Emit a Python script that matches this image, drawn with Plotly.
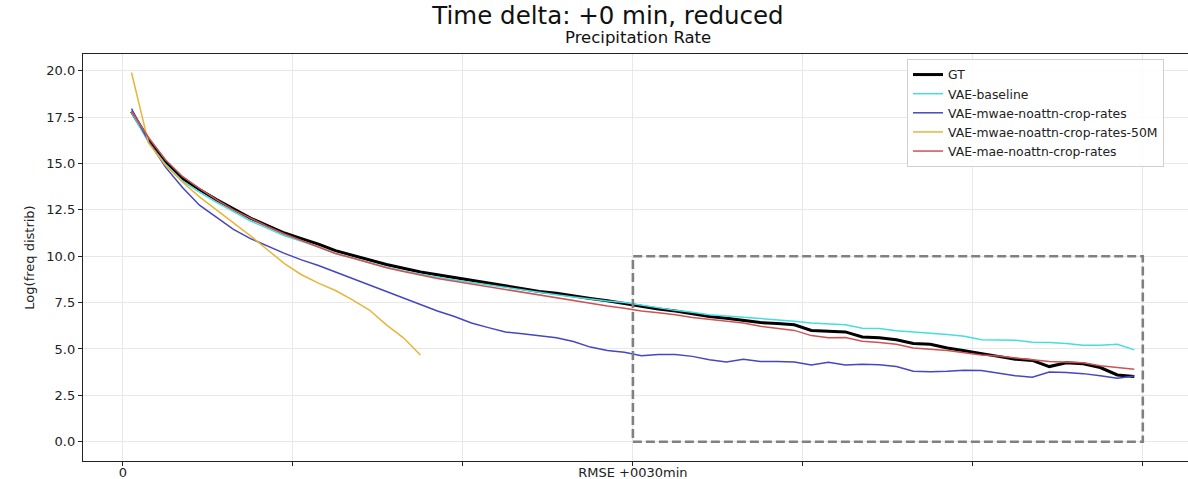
import plotly.graph_objects as go

# Bin centres of the precipitation-rate histogram (60 bins, 10 per major tick)
bins = [i + 0.5 for i in range(60)]
bins_50m = bins[:18]

gt = [17.8, 16.3, 15.1, 14.2, 13.6, 13.05, 12.55, 12.05, 11.65, 11.25,
      10.95, 10.65, 10.3, 10.05, 9.8, 9.55, 9.35, 9.15, 9.0, 8.85,
      8.7, 8.55, 8.4, 8.25, 8.1, 8.0, 7.85, 7.72, 7.6, 7.45,
      7.3, 7.15, 7.05, 6.9, 6.75, 6.65, 6.55, 6.42, 6.37, 6.3,
      6.0, 5.97, 5.92, 5.65, 5.6, 5.5, 5.3, 5.25, 5.05, 4.9,
      4.77, 4.6, 4.45, 4.38, 4.05, 4.25, 4.2, 4.0, 3.6, 3.52]

vae_baseline = [17.75, 16.15, 14.95, 14.05, 13.45, 12.9, 12.4, 11.9, 11.5, 11.1,
                10.8, 10.5, 10.15, 9.9, 9.65, 9.4, 9.2, 9.02, 8.87, 8.72,
                8.58, 8.44, 8.3, 8.16, 8.03, 7.92, 7.8, 7.68, 7.58, 7.5,
                7.35, 7.2, 7.08, 6.98, 6.85, 6.78, 6.72, 6.66, 6.6, 6.5,
                6.4, 6.33, 6.3, 6.12, 6.1, 5.98, 5.92, 5.88, 5.78, 5.68,
                5.5, 5.48, 5.47, 5.36, 5.35, 5.3, 5.2, 5.2, 5.25, 4.95]

vae_mwae = [17.95, 16.2, 14.8, 13.7, 12.75, 12.1, 11.45, 10.95, 10.55, 10.15,
            9.8, 9.5, 9.15, 8.8, 8.45, 8.1, 7.75, 7.4, 7.05, 6.75,
            6.4, 6.15, 5.92, 5.82, 5.72, 5.6, 5.4, 5.1, 4.92, 4.82,
            4.64, 4.7, 4.7, 4.6, 4.42, 4.3, 4.44, 4.33, 4.32, 4.3,
            4.14, 4.28, 4.14, 4.18, 4.15, 4.05, 3.8, 3.77, 3.8, 3.85,
            3.84, 3.7, 3.56, 3.47, 3.76, 3.73, 3.67, 3.55, 3.42, 3.54]

vae_mwae_50m = [19.9, 16.1, 14.9, 14.0, 13.2, 12.5, 11.85, 11.1, 10.35, 9.6,
                9.0, 8.55, 8.15, 7.65, 7.1, 6.3, 5.6, 4.67]

vae_mae = [17.8, 16.4, 15.2, 14.3, 13.65, 13.05, 12.5, 12.05, 11.6, 11.2,
           10.85, 10.5, 10.15, 9.9, 9.62, 9.38, 9.17, 8.98, 8.8, 8.65,
           8.5, 8.35, 8.2, 8.05, 7.9, 7.75, 7.6, 7.45, 7.32, 7.2,
           7.05, 6.95, 6.85, 6.7, 6.6, 6.5, 6.4, 6.22, 6.12, 6.0,
           5.72, 5.6, 5.62, 5.42, 5.35, 5.25, 5.05, 5.0, 4.92, 4.8,
           4.68, 4.62, 4.5, 4.42, 4.33, 4.3, 4.25, 4.1, 4.0, 3.9]

x_tick_vals = [0, 10, 20, 30, 40, 50, 60]
x_tick_text = ["0", "", "", "RMSE +0030min", "", "", ""]
y_tick_vals = [0, 2.5, 5, 7.5, 10, 12.5, 15, 17.5, 20]

# Highlighted tail region
zoom_x = [30, 60]
zoom_y = [0, 10]

FONT = "DejaVu Sans"
TXT = "#222222"

series = [
    ("GT", bins, gt, "#000000", 3.0),
    ("VAE-baseline", bins, vae_baseline, "#45DEDE", 1.5),
    ("VAE-mwae-noattn-crop-rates", bins, vae_mwae, "#4646C0", 1.5),
    ("VAE-mwae-noattn-crop-rates-50M", bins_50m, vae_mwae_50m, "#E8B53A", 1.5),
    ("VAE-mae-noattn-crop-rates", bins, vae_mae, "#CF5353", 1.5),
]

fig = go.Figure()
for name, xs, ys, color, w in series:
    fig.add_trace(go.Scatter(x=xs, y=ys, mode="lines", name=name,
                             line=dict(color=color, width=w)))

fig.add_shape(type="rect", xref="x", yref="y",
              x0=zoom_x[0], x1=zoom_x[1], y0=zoom_y[0], y1=zoom_y[1],
              line=dict(color="#808080", width=2.6, dash="9px,4px"))

fig.update_layout(
    width=1188, height=479,
    margin=dict(l=83, r=0, t=54, b=18, autoexpand=False),
    paper_bgcolor="white", plot_bgcolor="white",
    font=dict(family=FONT, size=13, color=TXT),
    title=dict(text="Time delta: +0 min, reduced", xref="container",
               x=608 / 1188, xanchor="center", y=1 - 15 / 479, yanchor="middle",
               font=dict(family=FONT, size=24.5, color="#111111")),
    legend=dict(x=0.7457, y=1 - (59 - 54) / 407, xanchor="left", yanchor="top",
                bgcolor="rgba(255,255,255,0.85)", bordercolor="#d0d0d0",
                borderwidth=1, font=dict(family=FONT, size=12.4, color=TXT),
                tracegroupgap=0),
    annotations=[dict(text="Precipitation Rate", xref="paper", yref="paper",
                      x=(638 - 83) / 1105, y=1 + (54 - 38) / 407,
                      xanchor="center", yanchor="middle", showarrow=False,
                      font=dict(family=FONT, size=16.5, color="#111111"))],
)

fig.update_xaxes(range=[-2.353, 62.66], tickvals=x_tick_vals, ticktext=x_tick_text,
                 automargin=False, ticklabelstandoff=-5,
                 showgrid=True, gridcolor="#e8e8e8", gridwidth=1, zeroline=False,
                 showline=True, linecolor="#222222", linewidth=1.3, mirror=True,
                 ticks="outside", ticklen=4, tickcolor="#222222",
                 tickfont=dict(family=FONT, size=13, color=TXT))
fig.update_yaxes(range=[-1.04, 20.9], tickvals=y_tick_vals, tickformat=".1f",
                 automargin=False,
                 showgrid=True, gridcolor="#e8e8e8", gridwidth=1, zeroline=False,
                 showline=True, linecolor="#222222", linewidth=1.3, mirror=False,
                 ticks="outside", ticklen=4, tickcolor="#222222",
                 tickfont=dict(family=FONT, size=13, color=TXT),
                 title=dict(text="Log(freq distrib)", standoff=8,
                            font=dict(family=FONT, size=13, color=TXT)))

fig.write_html("out.html")
